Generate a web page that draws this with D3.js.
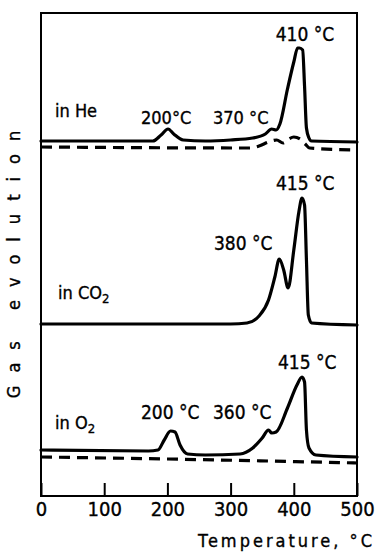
<!DOCTYPE html>
<html>
<head>
<meta charset="utf-8">
<script src="https://cdn.jsdelivr.net/npm/d3@7"></script>
<style>
    body { margin: 0; background: #fff; }
    svg { display: block; }
    text { font-family: "DejaVu Sans", sans-serif; font-stretch: condensed; fill: #000; stroke: #000; stroke-width: 0.35px; }
    .frame { fill: none; stroke: #000; stroke-width: 2; }
    .curve { fill: none; stroke: #000; stroke-width: 3.2; stroke-linejoin: round; stroke-linecap: round; }
    .curve--dashed { stroke-dasharray: 11 7; stroke-linecap: butt; }
</style>
</head>
<body>
<div class="chart"></div>
<script>
// temperature ticks (°C)
const tempTicks = [0, 100, 200, 300, 400, 500];

// He atmosphere, solid trace
const heTemp = [0, 150, 177, 190, 201, 210, 225, 260, 300, 335, 355, 365, 372, 378, 390, 400, 406, 409, 414, 417, 420, 424, 428, 500];
const heValue = [35.5, 35.5, 35.5, 36.1, 36.7, 36.2, 35.6, 35.5, 35.6, 35.8, 36.2, 36.7, 36.6, 37.2, 40.7, 43.4, 44.8, 44.8, 44.6, 41.0, 36.8, 35.8, 35.5, 35.4];
// He atmosphere, dashed trace
const heDashTemp = [0, 330, 345, 360, 373, 383, 392, 400, 410, 418, 425, 500];
const heDashValue = [34.9, 34.8, 35.0, 35.4, 35.6, 35.3, 35.7, 35.9, 35.7, 35.2, 34.8, 34.6];

// CO2 atmosphere
const co2Temp = [0, 300, 326, 345, 360, 370, 377, 384, 391, 400, 408, 413, 417, 420, 423, 428, 500];
const co2Value = [17.2, 17.2, 17.3, 18.0, 19.6, 21.9, 23.7, 22.6, 20.8, 24.6, 28.4, 29.8, 29.1, 23.6, 18.1, 17.3, 17.1];

// O2 atmosphere, solid trace
const o2Temp = [0, 170, 185, 195, 205, 212, 220, 232, 260, 315, 335, 350, 360, 365, 372, 390, 405, 413, 417, 420, 424, 435, 500];
const o2Value = [4.6, 4.5, 4.6, 5.6, 6.5, 6.4, 5.1, 4.2, 4.1, 4.2, 4.8, 5.8, 6.6, 6.3, 6.4, 8.8, 11.1, 11.9, 11.4, 6.6, 4.8, 4.1, 3.9];
// O2 atmosphere, dashed trace
const o2DashTemp = [0, 200, 500];
const o2DashValue = [3.9, 3.7, 3.3];

// annotation texts
const heLabels = ['in He', '200°C', '370 °C', '410 °C'];
const co2Labels = ['380 °C', '415 °C'];
const o2Labels = ['in O', '200 °C', '360 °C', '415 °C'];

class GasChart {
    constructor() {
        this.container = document.querySelector('.chart');
        this.width = 377;
        this.height = 556;
        this.margin = { top: 13, right: 20, bottom: 60, left: 41 };
        this.innerW = this.width - this.margin.left - this.margin.right;
        this.innerH = this.height - this.margin.top - this.margin.bottom;

        this.appendSVG();
        this.scaleX();
        this.scaleY();
        this.addFrame();
        this.addXAxis();
        this.addCurve(heTemp, heValue, false);
        this.addCurve(heDashTemp, heDashValue, true);
        this.addCurve(co2Temp, co2Value, false);
        this.addCurve(o2Temp, o2Value, false);
        this.addCurve(o2DashTemp, o2DashValue, true);
        this.addLabels();
        this.addAxisTitles();
    }

    appendSVG() {
        this.svg = d3.select(this.container)
            .append('svg')
            .attr('width', this.width)
            .attr('height', this.height)
            .append('g')
            .attr('transform', `translate(${this.margin.left}, ${this.margin.top})`);
    }

    scaleX() {
        this.x = d3.scaleLinear().domain([0, 500]).range([0, this.innerW]);
    }

    scaleY() {
        // arbitrary signal units, panels stacked by offset
        this.y = d3.scaleLinear().domain([0, 48.3]).range([this.innerH, 0]);
    }

    addFrame() {
        this.svg.append('rect')
            .attr('class', 'frame')
            .attr('x', 0)
            .attr('y', 0)
            .attr('width', this.innerW)
            .attr('height', this.innerH);
    }

    addXAxis() {
        const axis = this.svg.append('g')
            .attr('class', 'x-axis')
            .attr('transform', `translate(0,${this.innerH})`)
            .call(d3.axisBottom(this.x)
                .tickValues(tempTicks)
                .tickSizeInner(-13)
                .tickSizeOuter(0)
                .tickPadding(6));
        axis.select('.domain').remove();
        axis.selectAll('line').attr('stroke-width', 2);
        axis.selectAll('text')
            .style('font-family', '"DejaVu Sans", sans-serif')
            .style('font-size', '20px');
    }

    addCurve(temps, values, dashed) {
        const line = d3.line()
            .x((d) => this.x(d[0]))
            .y((d) => this.y(d[1]))
            .curve(d3.curveMonotoneX);
        this.svg.append('path')
            .datum(d3.zip(temps, values))
            .attr('class', dashed ? 'curve curve--dashed' : 'curve')
            .attr('d', line);
    }

    text(str, x, y, size, anchor) {
        return this.svg.append('text')
            .attr('x', x)
            .attr('y', y)
            .attr('text-anchor', anchor || 'start')
            .style('font-size', `${size}px`)
            .text(str);
    }

    addLabels() {
        const ox = this.margin.left;
        const oy = this.margin.top;
        // He panel
        this.text(heLabels[0], 55 - ox, 117 - oy, 18);
        this.text(heLabels[1], 141 - ox, 124 - oy, 18);
        this.text(heLabels[2], 213 - ox, 124 - oy, 18);
        this.text(heLabels[3], 305 - ox, 41 - oy, 19, 'middle');
        // CO2 panel
        const co2 = this.text('in CO', 58 - ox, 299 - oy, 18);
        co2.append('tspan').attr('dy', 4).style('font-size', '13px').text('2');
        this.text(co2Labels[0], 214 - ox, 250 - oy, 19);
        this.text(co2Labels[1], 276 - ox, 190 - oy, 19);
        // O2 panel
        const o2 = this.text(o2Labels[0], 55 - ox, 429 - oy, 18);
        o2.append('tspan').attr('dy', 4).style('font-size', '13px').text('2');
        this.text(o2Labels[1], 141 - ox, 419 - oy, 19);
        this.text(o2Labels[2], 213 - ox, 419 - oy, 19);
        this.text(o2Labels[3], 278 - ox, 369 - oy, 19);
    }

    addAxisTitles() {
        this.svg.append('text')
            .attr('transform', `translate(${14 - this.margin.left}, ${258 - this.margin.top}) rotate(-90)`)
            .attr('text-anchor', 'middle')
            .attr('dy', '0.35em')
            .style('font-size', '18px')
            .style('letter-spacing', '13px')
            .text('Gas evolution');
        this.svg.append('text')
            .attr('x', 375 - this.margin.left)
            .attr('y', 547 - this.margin.top)
            .attr('text-anchor', 'end')
            .style('font-size', '18px')
            .style('letter-spacing', '3px')
            .text('Temperature, °C');
    }
}

new GasChart();
</script>
</body>
</html>
